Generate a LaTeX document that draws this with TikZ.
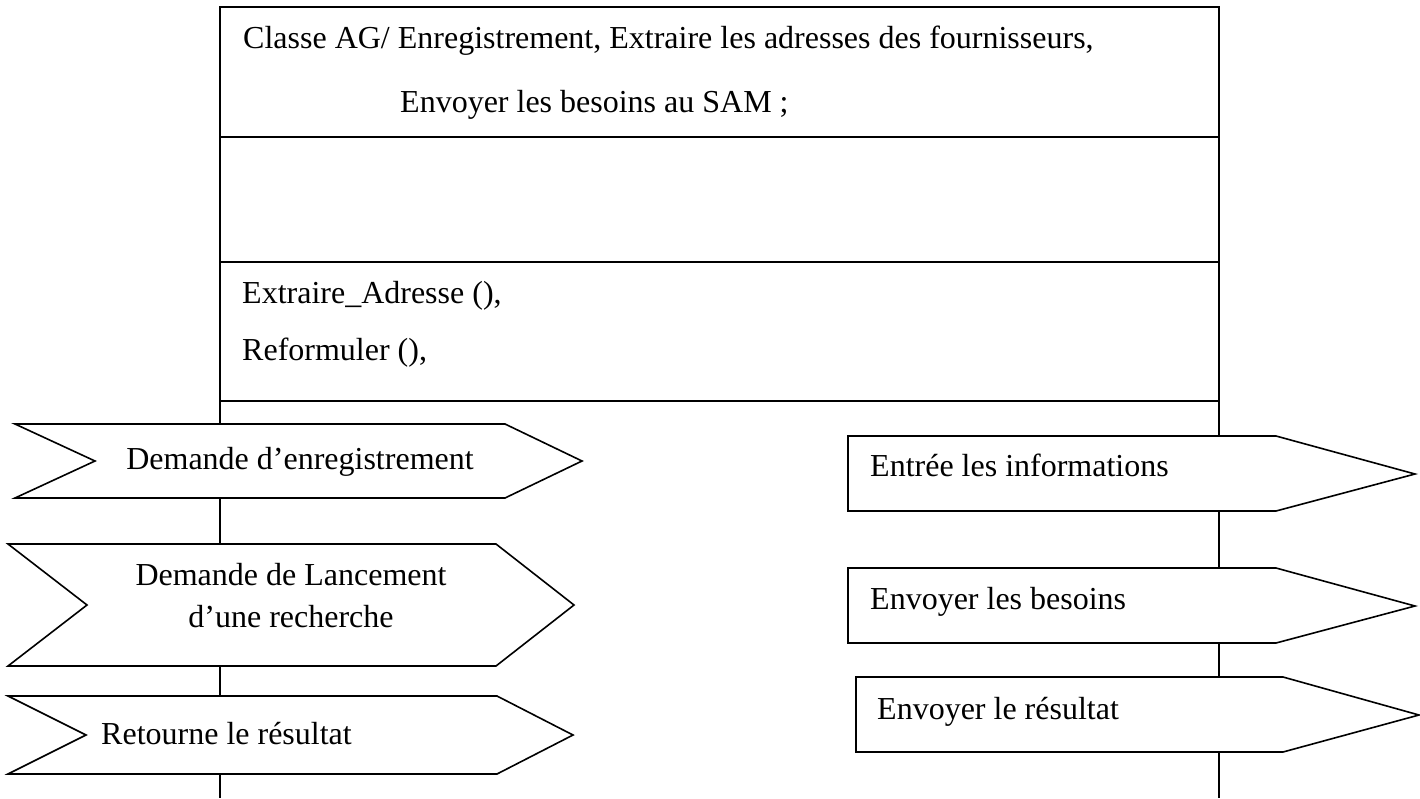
\documentclass[tikz,border=0pt]{standalone}
\usepackage{fontspec}
\setmainfont{Liberation Serif}
\begin{document}
\begin{tikzpicture}[x=1pt,y=-1pt,
  outline/.style={draw=black,line width=1.6pt,line join=miter,fill=white},
  rule/.style={draw=black,line width=2.4pt},
  life/.style={draw=black,line width=1.6pt},
  txt/.style={font=\fontsize{32}{42}\selectfont,inner sep=0pt,text=black},
]
\useasboundingbox (0,0) rectangle (1420,798);

% class box with its three compartments
\node[draw=black,line width=2pt,minimum width=999pt,minimum height=394pt,
      anchor=north west,inner sep=0pt,outer sep=0pt] (cls) at (220,7) {};
\coordinate (s1l) at (220,137); \coordinate (s1r) at (1219,137);
\coordinate (s2l) at (220,262); \coordinate (s2r) at (1219,262);
\draw[rule] (s1l) -- (s1r);
\draw[rule] (s2l) -- (s2r);
\draw[rule] (cls.south west) -- (cls.south east);

\node[txt,anchor=base west] (name1) at (243,48)
  {Classe AG/ Enregistrement, Extraire les adresses des fournisseurs,};
\node[txt,anchor=base west] (name2) at (400,112)
  {Envoyer les besoins au SAM ;};
\node[txt,anchor=base west] (op1) at (242,303) {Extraire\_Adresse (),};
\node[txt,anchor=base west] (op2) at (242,360) {Reformuler (),};

% incoming messages (left lifeline)
\draw[outline] (15,424) -- (505,424) -- (582,461) -- (505,498) -- (15,498) -- (95,461) -- cycle;
\coordinate (ch1T) at (220,424); \coordinate (ch1B) at (220,498);
\node[txt,anchor=base] (m1) at (300,469) {Demande d’enregistrement};

\draw[outline] (8,544) -- (496,544) -- (574,605) -- (496,666) -- (8,666) -- (87,605) -- cycle;
\coordinate (ch2T) at (220,544); \coordinate (ch2B) at (220,666);
\node[txt,align=center] (m2) at (291,596) {Demande de Lancement\\d’une recherche};

\draw[outline] (8,696) -- (497,696) -- (573,735) -- (497,774) -- (8,774) -- (86,735) -- cycle;
\coordinate (ch3T) at (220,696); \coordinate (ch3B) at (220,774);
\node[txt,anchor=base west] (m3) at (101,744) {Retourne le résultat};

% outgoing messages (right lifeline)
\draw[outline] (848,436) -- (1276,436) -- (1415,474) -- (1276,511) -- (848,511) -- cycle;
\coordinate (r1T) at (1219,436); \coordinate (r1B) at (1219,511);
\node[txt,anchor=base west] (o1) at (870,476) {Entrée les informations};

\draw[outline] (848,568) -- (1276,568) -- (1415,606) -- (1276,643) -- (848,643) -- cycle;
\coordinate (r2T) at (1219,568); \coordinate (r2B) at (1219,643);
\node[txt,anchor=base west] (o2) at (870,609) {Envoyer les besoins};

\draw[outline] (856,677) -- (1283,677) -- (1419,715) -- (1283,752) -- (856,752) -- cycle;
\coordinate (r3T) at (1219,677); \coordinate (r3B) at (1219,752);
\node[txt,anchor=base west] (o3) at (877,719) {Envoyer le résultat};

% lifelines
\coordinate (endL) at (220,798);
\coordinate (endR) at (1219,798);
\draw[life] (cls.south west) -- (ch1T);
\draw[life] (ch1B) -- (ch2T);
\draw[life] (ch2B) -- (ch3T);
\draw[life] (ch3B) -- (endL);
\draw[life] (cls.south east) -- (r1T);
\draw[life] (r1B) -- (r2T);
\draw[life] (r2B) -- (r3T);
\draw[life] (r3B) -- (endR);
\end{tikzpicture}
\end{document}
